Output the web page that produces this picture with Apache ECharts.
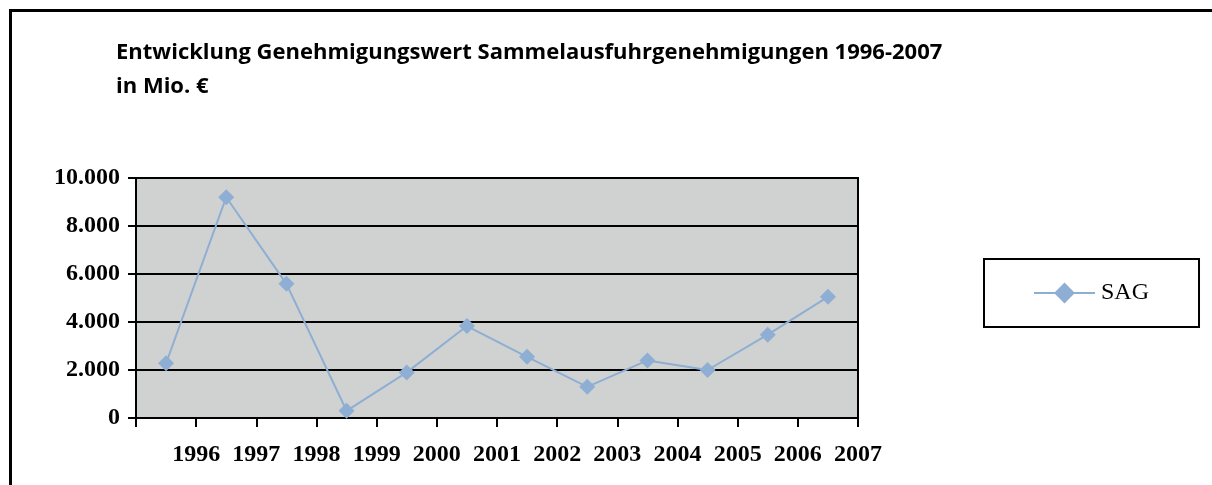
<!DOCTYPE html>
<html>
<head>
<meta charset="utf-8">
<script src="https://cdn.jsdelivr.net/npm/echarts@6/dist/echarts.min.js"></script>
<style>html,body{margin:0;padding:0;background:#fff;}#c{width:1212px;height:485px;}</style>
</head>
<body>
<div id="c"></div>
<script>
const years = ['1996','1997','1998','1999','2000','2001','2002','2003','2004','2005','2006','2007'];
const seriesName = 'SAG';
const sagValues = [2280, 9200, 5590, 300, 1900, 3830, 2550, 1300, 2400, 2000, 3470, 5050];
const yTicks = [0, 2000, 4000, 6000, 8000, 10000];

const chart = echarts.init(document.getElementById('c'));
const lineColor = '#8eaed4';
const serif = '"Liberation Serif", "Times New Roman", serif';

chart.setOption({
  animation: false,
  backgroundColor: '#fff',
  title: {
    text: 'Entwicklung Genehmigungswert Sammelausfuhrgenehmigungen 1996-2007\nin Mio. €',
    left: 116, top: 36, padding: 0,
    textStyle: { fontFamily: '"Open Sans", sans-serif', fontWeight: 'bold', fontSize: 22, lineHeight: 34, color: '#000' }
  },
  graphic: [{
    type: 'rect', left: 8, top: 8, z: 100,
    shape: { x: 0, y: 0, width: 1220, height: 500 },
    style: { fill: 'none', stroke: '#000', lineWidth: 3 }
  }],
  legend: {
    left: 984, top: 259,
    orient: 'vertical',
    padding: [22, 50, 22, 49],
    borderColor: '#000', borderWidth: 2,
    itemWidth: 61, itemHeight: 26, itemGap: 0,
    lineStyle: { width: 2 },
    textStyle: { fontFamily: serif, fontSize: 24, color: '#000', padding: [0, 0, 0, 1] },
    data: [seriesName]
  },
  grid: { left: 136, top: 178, right: 354, bottom: 67, show: true, backgroundColor: '#d0d2d1', borderColor: '#000', borderWidth: 2 },
  xAxis: {
    type: 'value', min: 0, max: years.length, interval: 1,
    axisLine: { show: true, lineStyle: { color: '#000', width: 2 } },
    axisTick: { show: true, length: 9, lineStyle: { color: '#000', width: 2 } },
    splitLine: { show: false },
    axisLabel: {
      margin: 25, fontFamily: serif, fontWeight: 'bold', fontSize: 24, color: '#000',
      formatter: v => (v >= 1 && v <= years.length) ? years[v - 1] : ''
    }
  },
  yAxis: {
    type: 'value', min: yTicks[0], max: yTicks[yTicks.length - 1], interval: 2000,
    axisLine: { show: true, lineStyle: { color: '#000', width: 2 } },
    axisTick: { show: true, length: 8, lineStyle: { color: '#000', width: 2 } },
    splitLine: { show: true, lineStyle: { color: '#000', width: 2 } },
    axisLabel: {
      margin: 16, fontFamily: serif, fontWeight: 'bold', fontSize: 24, color: '#000',
      formatter: v => v.toString().replace(/\B(?=(\d{3})+(?!\d))/g, '.')
    }
  },
  series: [{
    name: seriesName, type: 'line',
    data: sagValues.map((v, i) => [i + 0.5, v]),
    symbol: 'diamond', symbolSize: 16,
    lineStyle: { color: lineColor, width: 2 },
    itemStyle: { color: lineColor },
    z: 5
  }]
});
</script>
</body>
</html>
